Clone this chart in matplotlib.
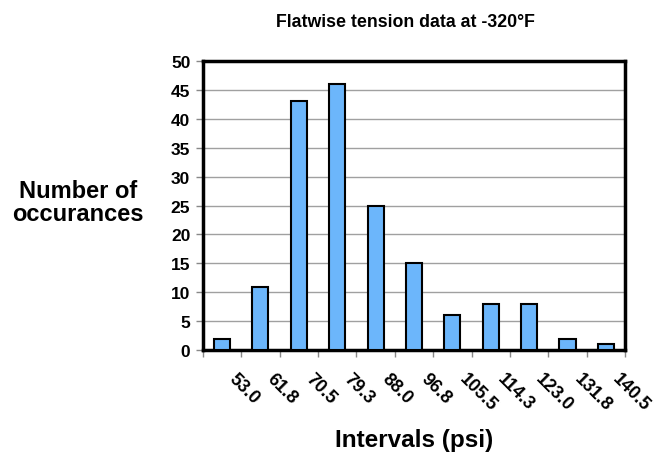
import numpy as np
import matplotlib.pyplot as plt

# histogram counts per interval
intervals = ["53.0", "61.8", "70.5", "79.3", "88.0", "96.8",
             "105.5", "114.3", "123.0", "131.8", "140.5"]
counts = [2, 11, 43, 46, 25, 15, 6, 8, 8, 2, 1]

plt.rcParams["font.family"] = ["Liberation Sans", "DejaVu Sans"]
plt.rcParams["font.weight"] = "bold"

fig = plt.figure(figsize=(6.65, 4.56), dpi=100)
ax = fig.add_axes([0.305, 0.230, 0.635, 0.634])

x = np.arange(len(counts))
ax.bar(x, counts, width=0.42, color="#6cb6fb", edgecolor="black", linewidth=1.5, zorder=3)

ax.set_xlim(-0.5, len(counts) - 0.5)
ax.set_ylim(0, 50)
ax.set_yticks(np.arange(0, 51, 5))
ax.yaxis.grid(True, color="#a0a0a0", linewidth=1, zorder=0)

# ticks on interval boundaries, labels under bar centres
ax.set_xticks(np.arange(len(counts) + 1) - 0.5)
ax.set_xticklabels([])
ax.tick_params(axis="x", length=5, color="#888888", width=1)
ax.tick_params(axis="y", length=5, color="#888888", width=1, labelsize=12.5, pad=4)
for lbl in ax.get_yticklabels():
    lbl.set_fontweight("bold")

for xi, txt in zip(x, intervals):
    ax.annotate(txt, xy=(xi, 0), xycoords=("data", "axes fraction"),
                xytext=(11, -14), textcoords="offset points",
                rotation=-45, rotation_mode="anchor", ha="left", va="top",
                fontsize=13, fontweight="bold")

for s in ax.spines.values():
    s.set_linewidth(2.5)
    s.set_color("black")

fig.text(0.61, 0.941, "Flatwise tension data at -320°F", ha="center", va="baseline",
         fontsize=12.8, fontweight="bold")
fig.text(0.117, 0.555, "Number of\noccurances", ha="center", va="center",
         fontsize=17, fontweight="bold", linespacing=1.0)
fig.text(0.623, 0.02, "Intervals (psi)", ha="center", va="baseline",
         fontsize=17.5, fontweight="bold")

fig.savefig("out.png", dpi=100)
